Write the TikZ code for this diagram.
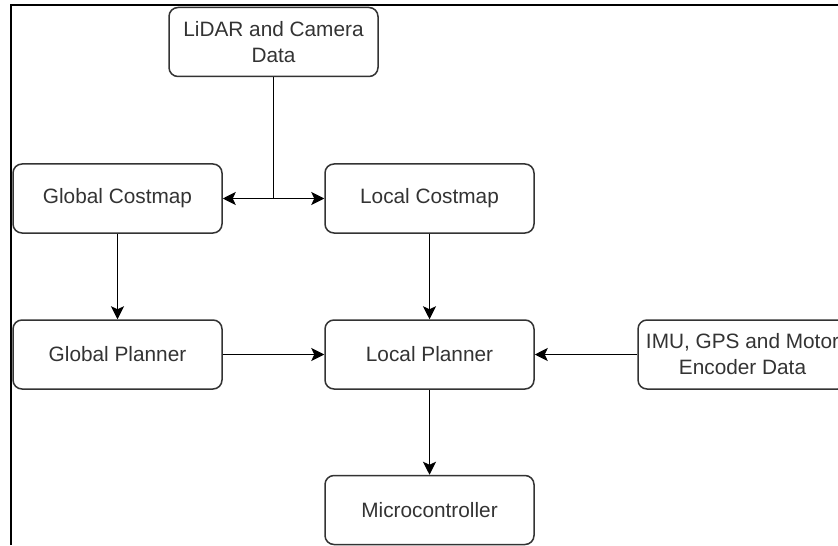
\documentclass[tikz,border=0pt]{standalone}
\usepackage{fontspec}
\setmainfont{Liberation Sans}
\usetikzlibrary{arrows.meta}
\definecolor{boxgray}{HTML}{333333}
\begin{document}
\begin{tikzpicture}[x=0.5pt,y=-0.5pt,>={Stealth[length=6.5pt,width=6.5pt,inset=1.5pt]},
  blk/.style={draw=boxgray,line width=0.75pt,rounded corners=4.5pt,minimum width=104.5pt,
    minimum height=34.5pt,align=center,text=boxgray,inner sep=2pt,
    font=\fontsize{10.4}{13}\selectfont},
  link/.style={->,line width=0.7pt}]
  \clip (0,0) rectangle (838,545);
  \draw[line width=1pt] (11,545) -- (11,5) -- (838,5);
  \node[blk] (lidar) at (273.5,42) {LiDAR and Camera\\Data};
  \node[blk] (gcost) at (117.5,198.5) {Global Costmap};
  \node[blk] (lcost) at (429.5,198.5) {Local Costmap};
  \node[blk] (gplan) at (117.5,354.5) {Global Planner};
  \node[blk] (lplan) at (429.5,354.5) {Local Planner};
  \node[blk] (imu) at (742.5,354.5) {IMU, GPS and Motor\\Encoder Data};
  \node[blk] (mcu) at (429.5,510) {Microcontroller};
  \draw[line width=0.7pt] (lidar.south) -- (lidar.south |- gcost.east);
  \draw[<->,line width=0.7pt] (gcost.east) -- (lcost.west);
  \draw[link] (gcost) -- (gplan);
  \draw[link] (lcost) -- (lplan);
  \draw[link] (gplan) -- (lplan);
  \draw[link] (imu) -- (lplan);
  \draw[link] (lplan) -- (mcu);
\end{tikzpicture}
\end{document}
